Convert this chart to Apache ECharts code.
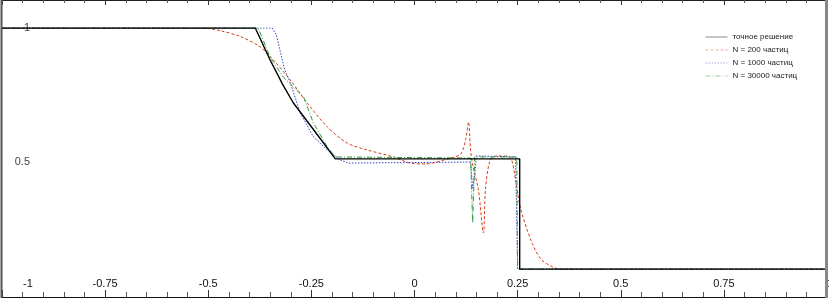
<!DOCTYPE html>
<html><head><meta charset="utf-8">
<script src="https://cdn.jsdelivr.net/npm/echarts@6/dist/echarts.min.js"></script>
<style>html,body{margin:0;padding:0;background:#fff}#c{width:829px;height:298px}</style>
</head><body><div id="c"></div>
<script>
const seriesNames = ['точное решение', 'N = 200 частиц', 'N = 1000 частиц', 'N = 30000 частиц'];
const xTicks = [-1, -0.75, -0.5, -0.25, 0, 0.25, 0.5, 0.75, 1];
const yTicks = [0.5, 1];

const exactX = [-1, -0.386, -0.35, -0.32, -0.294, -0.245, -0.192, 0.255, 0.255, 1];
const exactY = [1, 1, 0.88, 0.79, 0.72, 0.62, 0.51, 0.51, 0.097, 0.097];

const n200X = [-1, -0.54, -0.5, -0.471, -0.422, -0.374, -0.342, -0.301, -0.26, -0.211, -0.163, -0.114, -0.051, -0.01, 0.027, 0.087, 0.112, 0.124, 0.131, 0.136, 0.141, 0.155, 0.167, 0.172, 0.18, 0.189, 0.209, 0.233, 0.245, 0.257, 0.282, 0.306, 0.33, 0.354, 1];
const n200Y = [1, 1, 0.998, 0.99, 0.968, 0.929, 0.88, 0.805, 0.719, 0.629, 0.569, 0.543, 0.517, 0.494, 0.491, 0.513, 0.528, 0.581, 0.648, 0.543, 0.487, 0.393, 0.232, 0.393, 0.487, 0.517, 0.521, 0.513, 0.431, 0.326, 0.206, 0.135, 0.109, 0.097, 0.097];

const n1000X = [-1, -0.345, -0.335, -0.325, -0.315, -0.301, -0.277, -0.245, -0.211, -0.18, -0.16, 0.136, 0.141, 0.146, 0.15, 0.245, 0.25, 1];
const n1000Y = [1, 1, 0.975, 0.91, 0.845, 0.795, 0.682, 0.592, 0.543, 0.506, 0.494, 0.498, 0.40, 0.45, 0.521, 0.517, 0.097, 0.097];

const n30000X = [-1, -0.379, -0.35, -0.318, -0.269, -0.245, -0.211, -0.192, 0.136, 0.141, 0.146, 0.248, 0.25, 1];
const n30000Y = [1, 1, 0.891, 0.816, 0.742, 0.644, 0.554, 0.517, 0.513, 0.27, 0.517, 0.517, 0.097, 0.097];

function pairs(xs, ys) { return xs.map((x, i) => [x, ys[i]]); }

const font = '"Liberation Sans", Arial, sans-serif';
const chart = echarts.init(document.getElementById('c'), null, {renderer: 'canvas'});
chart.setOption({
  animation: false,
  backgroundColor: '#fff',
  grid: {left: 2, right: 2, top: 28, bottom: 3, containLabel: false, outerBoundsMode: 'none'},
  legend: {
    left: 700, top: 28, orient: 'vertical', itemWidth: 22, itemHeight: 8, itemGap: 5,
    textStyle: {fontSize: 8, color: '#222', fontFamily: font},
    itemStyle: {opacity: 0},
    lineStyle: {opacity: 0.45, width: 1},
    data: seriesNames
  },
  xAxis: [{
    type: 'value', min: -1, max: 1, interval: 0.25, position: 'bottom', offset: 2,
    axisLine: {show: true, onZero: false, lineStyle: {color: '#111', width: 1}},
    axisTick: {show: true, inside: true, length: 7, lineStyle: {color: '#333'}},
    minorTick: {show: true, splitNumber: 5, length: 5, lineStyle: {color: '#555'}},
    splitLine: {show: false},
    axisLabel: {
      inside: true, margin: 8, fontSize: 11, color: '#111', fontFamily: font,
      showMaxLabel: true, showMinLabel: true, hideOverlap: false,
      formatter: v => v === -1 ? '{a|-1}' : (v === 1 ? '{b|1}' : String(v)),
      rich: {
        a: {padding: [0, 0, 0, 52], fontSize: 11, color: '#111', fontFamily: font},
        b: {padding: [0, 0, 0, 6], fontSize: 11, color: '#111', fontFamily: font}
      }
    }
  }, {
    type: 'value', min: -1, max: 1, interval: 0.25, position: 'top', offset: 28,
    axisLine: {show: true, onZero: false, lineStyle: {color: '#222', width: 1}},
    axisTick: {show: true, inside: true, length: 5, lineStyle: {color: '#333'}},
    minorTick: {show: true, splitNumber: 5, length: 3, lineStyle: {color: '#555'}},
    splitLine: {show: false},
    axisLabel: {show: false}
  }],
  yAxis: {
    type: 'value', min: 0, max: 1, interval: 0.5, offset: -29,
    axisLine: {show: false}, axisTick: {show: false}, splitLine: {show: false},
    axisLabel: {
      margin: 1, fontSize: 11, color: '#444', fontFamily: font,
      formatter: v => yTicks.includes(v) ? String(v) : ''
    }
  },
  series: [
    {name: seriesNames[0], type: 'line', symbol: 'none', data: pairs(exactX, exactY), z: 5,
     lineStyle: {color: '#000', width: 1.4, type: 'solid'}, itemStyle: {color: '#000'}},
    {name: seriesNames[1], type: 'line', symbol: 'none', data: pairs(n200X, n200Y), z: 3,
     smooth: 0.3,
     lineStyle: {color: '#d6401c', width: 1, type: [3, 2]}, itemStyle: {color: '#d6401c'}},
    {name: seriesNames[2], type: 'line', symbol: 'none', data: pairs(n1000X, n1000Y), z: 4,
     lineStyle: {color: '#3340c8', width: 1, type: [1.5, 1.5]}, itemStyle: {color: '#3340c8'}},
    {name: seriesNames[3], type: 'line', symbol: 'none', data: pairs(n30000X, n30000Y), z: 4,
     lineStyle: {color: '#2f9a3a', width: 1, type: [5, 2, 1, 2]}, itemStyle: {color: '#2f9a3a'}}
  ],
  graphic: [
    {type: 'line', shape: {x1: 1.5, y1: 0, x2: 1.5, y2: 298}, style: {stroke: '#555', lineWidth: 2}, z: 100},
    {type: 'line', shape: {x1: 826.5, y1: 0, x2: 826.5, y2: 298}, style: {stroke: '#888', lineWidth: 3}, z: 100}
  ]
});
</script></body></html>
